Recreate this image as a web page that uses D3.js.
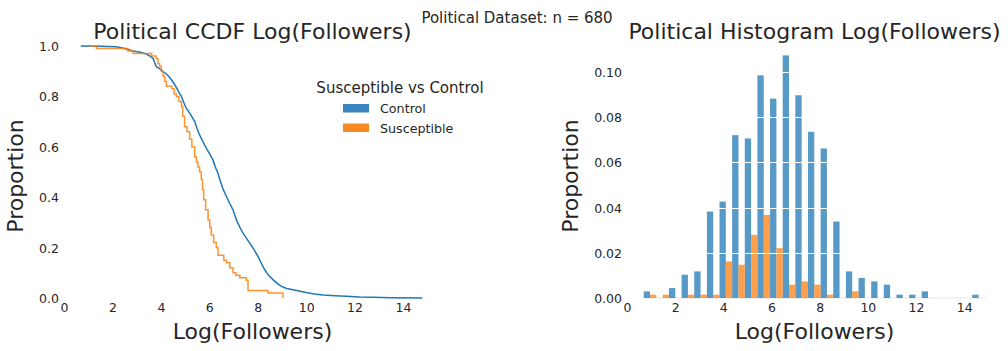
<!DOCTYPE html>
<html>
<head>
<meta charset="utf-8">
<script src="https://cdn.jsdelivr.net/npm/d3@7"></script>
<style>
body{margin:0;background:#fff;}
text{font-family:"DejaVu Sans",sans-serif;fill:#262626;}
</style>
</head>
<body>
<svg id="screen" width="1008" height="351"></svg>
<script>
const screenEl = document.querySelector("#screen");
const svg = d3.select(screenEl);

//data
const seriesNames = ["Control","Susceptible"];
const lineColors = ["#1f77b4","#ff7f0e"];
const patchColors = ["#3a84bf","#f68b22"];

// ccdf points [log followers, proportion]
const controlCcdf = [[0.69,1.0],[1.5,0.999],[2.16,0.997],[2.5,0.99],[2.85,0.98],[3.15,0.975],[3.40,0.968],[3.55,0.96],
  [3.68,0.951],[3.76,0.93],[3.81,0.918],[3.95,0.91],[4.09,0.898],[4.22,0.89],[4.36,0.876],[4.5,0.857],[4.64,0.836],
  [4.75,0.815],[4.85,0.80],[4.95,0.775],[5.05,0.753],[5.22,0.73],[5.40,0.70],[5.50,0.672],[5.60,0.647],[5.75,0.618],
  [5.88,0.594],[6.0,0.575],[6.15,0.548],[6.25,0.52],[6.36,0.495],[6.45,0.465],[6.57,0.432],[6.70,0.405],[6.84,0.376],
  [6.98,0.35],[7.12,0.31],[7.25,0.283],[7.39,0.258],[7.60,0.228],[7.81,0.198],[8.01,0.165],[8.15,0.138],[8.29,0.112],
  [8.45,0.09],[8.63,0.073],[8.80,0.058],[8.98,0.046],[9.2,0.038],[9.46,0.033],[10.0,0.022],[10.35,0.016],[10.70,0.012],
  [11.2,0.009],[11.66,0.0066],[12.2,0.004],[12.76,0.0026],[13.5,0.001],[14.8,0.0]];
const susceptibleCcdf = [[1.06,1.0],[1.34,0.99],[2.64,0.98],[2.85,0.97],[3.62,0.96],[3.80,0.95],[3.88,0.93],[3.95,0.92],
  [4.02,0.90],[4.09,0.88],[4.16,0.86],[4.23,0.84],[4.45,0.83],[4.55,0.81],[4.64,0.80],[4.75,0.78],[4.85,0.76],[4.90,0.72],
  [4.98,0.68],[5.08,0.66],[5.19,0.63],[5.28,0.60],[5.40,0.56],[5.47,0.54],[5.53,0.52],[5.60,0.50],[5.67,0.47],[5.72,0.43],
  [5.77,0.39],[5.85,0.35],[5.95,0.31],[6.02,0.28],[6.08,0.25],[6.18,0.22],[6.29,0.20],[6.36,0.17],[6.60,0.15],[6.71,0.14],
  [6.85,0.12],[6.98,0.10],[7.10,0.09],[7.26,0.08],[7.53,0.07],[7.60,0.03],[8.43,0.02],[9.04,0.0]];

// histogram bins and counts (n = 680)
const binEdges = [0.693,1.218,1.742,2.267,2.792,3.317,3.841,4.366,4.891,5.415,5.940,6.465,6.989,7.514,
  8.039,8.563,9.088,9.613,10.138,10.662,11.187,11.712,12.236,12.761,13.286,13.810,14.335,14.860];
const controlCounts = [2,0,3,7,8,26,29,49,48,67,60,73,61,50,45,23,8,6,5,4,1,1,2,0,0,0,1];
const susceptibleCounts = [1,1,0,1,1,1,11,10,19,25,15,4,5,4,1,0,2,0,0,0,0,0,0,0,0,0,0];
const total = 680;

const xTicks = [0,2,4,6,8,10,12,14];
const ccdfYTicks = [0,0.2,0.4,0.6,0.8,1.0];
const histYTicks = [0,0.02,0.04,0.06,0.08,0.10];


//scales
var xLeft = d3.scaleLinear().domain([0,15.57]).range([64,441]);
var yLeft = d3.scaleLinear().domain([0,1]).range([298,46]);
var xRight = d3.scaleLinear().domain([0,15.57]).range([627,1002]);
var yRight = d3.scaleLinear().domain([0,0.1]).range([298,72]);

function drawAxes(x, y, yFmt){
    svg.append("g").attr("transform","translate(0,303)")
    .call(d3.axisBottom(x).tickValues(xTicks).tickSize(0).tickPadding(0))
    .call(g => g.select(".domain").remove())
    .selectAll("text").attr("font-size",12.5).attr("fill","#262626").attr("dy","0.71em")
    .style("font-family","DejaVu Sans");

    svg.append("g").attr("transform","translate(" + (x(0)-5) + ",0)")
    .call(d3.axisLeft(y).tickValues(y === yLeft ? ccdfYTicks : histYTicks).tickFormat(d3.format(yFmt)).tickSize(0).tickPadding(0))
    .call(g => g.select(".domain").remove())
    .selectAll("text").attr("font-size",12.5).attr("fill","#262626").attr("dy","0.36em")
    .style("font-family","DejaVu Sans");
}


//Left: CCDF
drawAxes(xLeft, yLeft, ".1f");

var ccdfLine = d3.line().x(d => xLeft(d[0])).y(d => yLeft(d[1]));
svg.append("path").datum(controlCcdf)
.attr("d",ccdfLine.curve(d3.curveLinear))
.attr("fill","none").attr("stroke",lineColors[0]).attr("stroke-width",1.5);
svg.append("path").datum(susceptibleCcdf)
.attr("d",ccdfLine.curve(d3.curveStepAfter))
.attr("fill","none").attr("stroke",lineColors[1]).attr("stroke-width",1.5).attr("stroke-opacity",0.85);

// legend
var legend = svg.append("g");
legend.append("text").attr("x",400).attr("y",93).attr("text-anchor","middle")
.attr("font-size",15).text("Susceptible vs Control");
seriesNames.forEach(function(name,i){
    legend.append("rect").attr("x",343).attr("y",104 + i*19.5)
    .attr("width",26).attr("height",8.5).attr("fill",patchColors[i]);
    legend.append("text").attr("x",380).attr("y",113 + i*19.5)
    .attr("font-size",12.7).text(name);
});


//Right: histogram
drawAxes(xRight, yRight, ".2f");

var bins = controlCounts.map(function(c,i){
    return {x0: binEdges[i], x1: binEdges[i+1], control: c/total, susceptible: susceptibleCounts[i]/total};
});

// faint baseline of the empty bars
svg.append("line")
.attr("x1",xRight(binEdges[0])).attr("x2",xRight(binEdges[binEdges.length-1]))
.attr("y1",yRight(0)).attr("y2",yRight(0))
.attr("stroke","#e6e6e6").attr("stroke-width",1);

var barW = d => (xRight(d.x1) - xRight(d.x0))/2;
svg.append("g").selectAll("rect").data(bins).join("rect")
.attr("x",d => xRight(d.x0)).attr("width",barW)
.attr("y",d => yRight(d.control)).attr("height",d => yRight(0)-yRight(d.control))
.attr("fill",lineColors[0]).attr("fill-opacity",0.75);
svg.append("g").selectAll("rect").data(bins).join("rect")
.attr("x",d => xRight(d.x0) + barW(d)).attr("width",barW)
.attr("y",d => yRight(d.susceptible)).attr("height",d => yRight(0)-yRight(d.susceptible))
.attr("fill",lineColors[1]).attr("fill-opacity",0.75);

// white grid over the bars
svg.append("g").selectAll("line").data(histYTicks.slice(1)).join("line")
.attr("x1",627).attr("x2",1002)
.attr("y1",d => Math.round(yRight(d))+0.5).attr("y2",d => Math.round(yRight(d))+0.5)
.attr("stroke","#fff").attr("stroke-width",1);


//titles and labels
svg.append("text").attr("x",517).attr("y",23).attr("text-anchor","middle")
.attr("font-size",15).text("Political Dataset: n = 680");
svg.append("text").attr("x",252.5).attr("y",39).attr("text-anchor","middle")
.attr("font-size",22).text("Political CCDF Log(Followers)");
svg.append("text").attr("x",814.5).attr("y",39).attr("text-anchor","middle")
.attr("font-size",22).text("Political Histogram Log(Followers)");

svg.append("text").attr("x",252.5).attr("y",339).attr("text-anchor","middle")
.attr("font-size",22).text("Log(Followers)");
svg.append("text").attr("x",814.5).attr("y",339).attr("text-anchor","middle")
.attr("font-size",22).text("Log(Followers)");

svg.append("text").attr("transform","translate(23,176) rotate(-90)").attr("text-anchor","middle")
.attr("font-size",22).text("Proportion");
svg.append("text").attr("transform","translate(578,176) rotate(-90)").attr("text-anchor","middle")
.attr("font-size",22).text("Proportion");
</script>
</body>
</html>
